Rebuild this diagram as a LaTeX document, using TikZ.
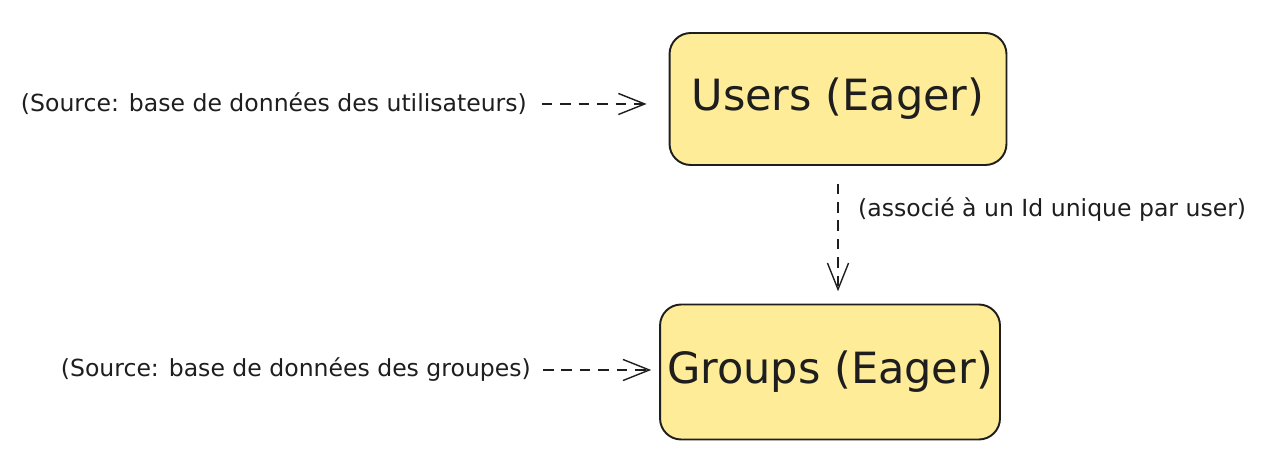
\documentclass[tikz,border=0pt]{standalone}
\usepackage{fontspec}
\setmainfont{DejaVu Sans}
\usetikzlibrary{arrows.meta,positioning}
\definecolor{boxfill}{HTML}{FFEC99}
\definecolor{ink}{HTML}{1E1E1E}

\begin{document}
\begin{tikzpicture}[x=0.02cm, y=-0.02cm,
  entity/.style={rectangle, rounded corners=12pt, draw=ink, line width=1.1pt, fill=boxfill, text=ink, font=\fontsize{24.5}{28}\selectfont},
  note/.style={text=ink, font=\fontsize{13.4}{16}\selectfont},
  flow/.style={draw=ink, line width=0.8pt, dash pattern=on 6pt off 4.5pt, -{Straight Barb[length=15pt, width=12pt, line width=0.8pt]}}]
\useasboundingbox (0,0) rectangle (1266,472);
\node[entity, minimum width=6.74cm, minimum height=2.64cm] (users) at (838,99) {Users (Eager)};
\node[entity, minimum width=6.8cm, minimum height=2.7cm] (groups) at (830,372) {Groups (Eager)};
\node[note, anchor=east] (srcusers) at (533,104) {(Source: base de données des utilisateurs)};
\node[note, anchor=east] (srcgroups) at (537,370) {(Source: base de données des groupes)};
\node[note, anchor=west] (idnote) at (852,210) {(associé à un Id unique par user)};
\draw[flow, shorten <=5pt, shorten >=12.5pt] (srcusers.east) -- (users.west |- srcusers.east);
\draw[flow, shorten <=3.4pt, shorten >=4.5pt] (srcgroups.east) -- (groups.west |- srcgroups.east);
\draw[flow, shorten <=10pt, shorten >=7pt] (users.south) -- (users.south |- groups.north);
\end{tikzpicture}
\end{document}
